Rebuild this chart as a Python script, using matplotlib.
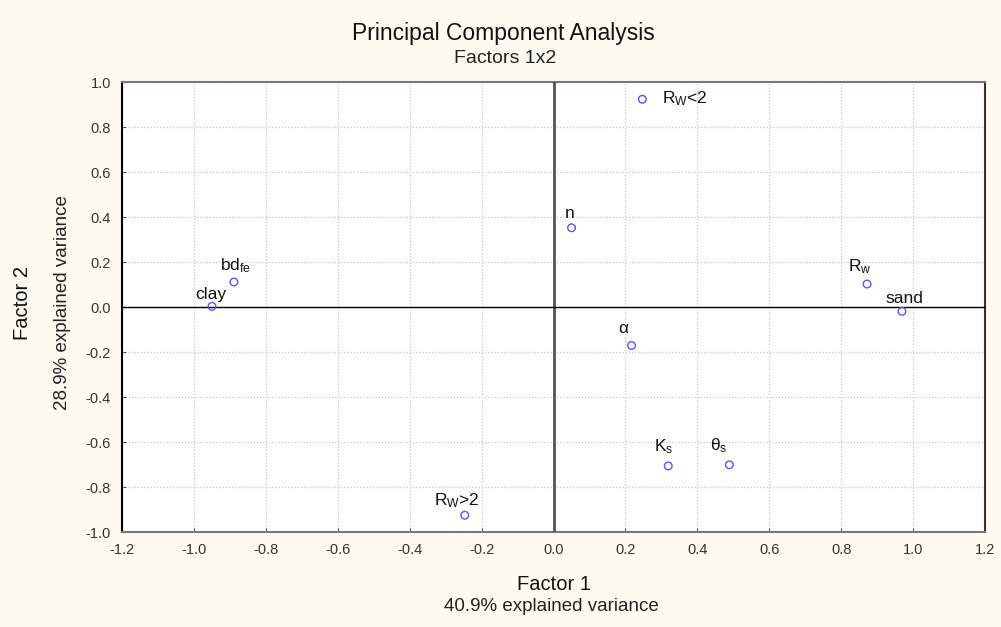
import matplotlib.pyplot as plt
import numpy as np

plt.rcParams['font.family'] = ['Liberation Sans', 'DejaVu Sans']
plt.rcParams['mathtext.fontset'] = 'custom'
plt.rcParams['mathtext.rm'] = 'Liberation Sans'
plt.rcParams['mathtext.it'] = 'Liberation Sans:italic'

# loadings
names = [r'R$_{\mathrm{W}}$<2', 'n', r'bd$_{\mathrm{fe}}$', 'clay', r'R$_{\mathrm{w}}$',
         'sand', r'$\mathrm{\alpha}$', r'K$_{\mathrm{s}}$', r'$\mathrm{\theta}_{\mathrm{s}}$',
         r'R$_{\mathrm{W}}$>2']
factor1 = [0.247, 0.050, -0.889, -0.950, 0.872, 0.969, 0.217, 0.319, 0.489, -0.247]
factor2 = [0.924, 0.353, 0.112, 0.004, 0.103, -0.018, -0.170, -0.705, -0.700, -0.924]
# label offsets in points
offsets = [(14, -6), (-5, 5), (-10, 5), (-12, 3), (-14, 6), (-12, 4),
           (-10, 7), (-10, 7), (-14, 7), (-22, 4)]

xticks = np.round(np.arange(-1.2, 1.21, 0.2), 1)
yticks = np.round(np.arange(-1.0, 1.01, 0.2), 1)

def fmt(t):
    return f'{abs(t):.1f}' if abs(t) < 1e-9 else f'{t:.1f}'

bg = '#fefcf2'
fig = plt.figure(figsize=(10.01, 6.27), dpi=100, facecolor=bg)
ax = fig.add_axes([0.122, 0.151, 0.862, 0.718])
ax.set_facecolor('white')

ax.scatter(factor1, factor2, s=30, facecolors='none', edgecolors='#5555ff',
           linewidths=1.0, zorder=4)
for name, x, y, off in zip(names, factor1, factor2, offsets):
    ax.annotate(name, (x, y), xytext=off, textcoords='offset points',
                fontsize=12.5, ha='left', va='bottom', color='#111111', zorder=5)

ax.axvline(0, color='#555555', lw=2.0, zorder=3)
ax.axhline(0, color='black', lw=1.0, zorder=3)

ax.set_xlim(-1.2, 1.2)
ax.set_ylim(-1.0, 1.0)
ax.set_xticks(xticks)
ax.set_yticks(yticks)
ax.set_xticklabels([fmt(t) for t in xticks], fontsize=10.5, color='#333333')
ax.set_yticklabels([fmt(t) for t in yticks], fontsize=10.5, color='#333333')
ax.tick_params(direction='in', length=3, color='#555555', pad=8)
ax.grid(True, linestyle=(0, (1, 1.5)), color='#c8c8c8', lw=0.9)
ax.set_axisbelow(True)
for side in ['left', 'top', 'right', 'bottom']:
    ax.spines[side].set_linewidth(1.5)
ax.spines['left'].set_color('black')
ax.spines['right'].set_color('#333333')
ax.spines['top'].set_color('#777777')
ax.spines['bottom'].set_color('#777777')

fig.text(0.503, 0.947, 'Principal Component Analysis', ha='center', va='center',
         fontsize=16.5, color='#111111')
fig.text(0.505, 0.907, 'Factors 1x2', ha='center', va='center', fontsize=14,
         color='#222222')
fig.text(0.553, 0.067, 'Factor 1', ha='center', va='center', fontsize=14.5,
         color='#111111')
fig.text(0.551, 0.032, '40.9% explained variance', ha='center', va='center',
         fontsize=13.5, color='#222222')
fig.text(0.022, 0.517, 'Factor 2', ha='center', va='center', rotation=90,
         fontsize=14.5, color='#111111')
fig.text(0.062, 0.517, '28.9% explained variance', ha='center', va='center',
         rotation=90, fontsize=13.5, color='#222222')

fig.savefig('out.png', dpi=100, facecolor=bg)
